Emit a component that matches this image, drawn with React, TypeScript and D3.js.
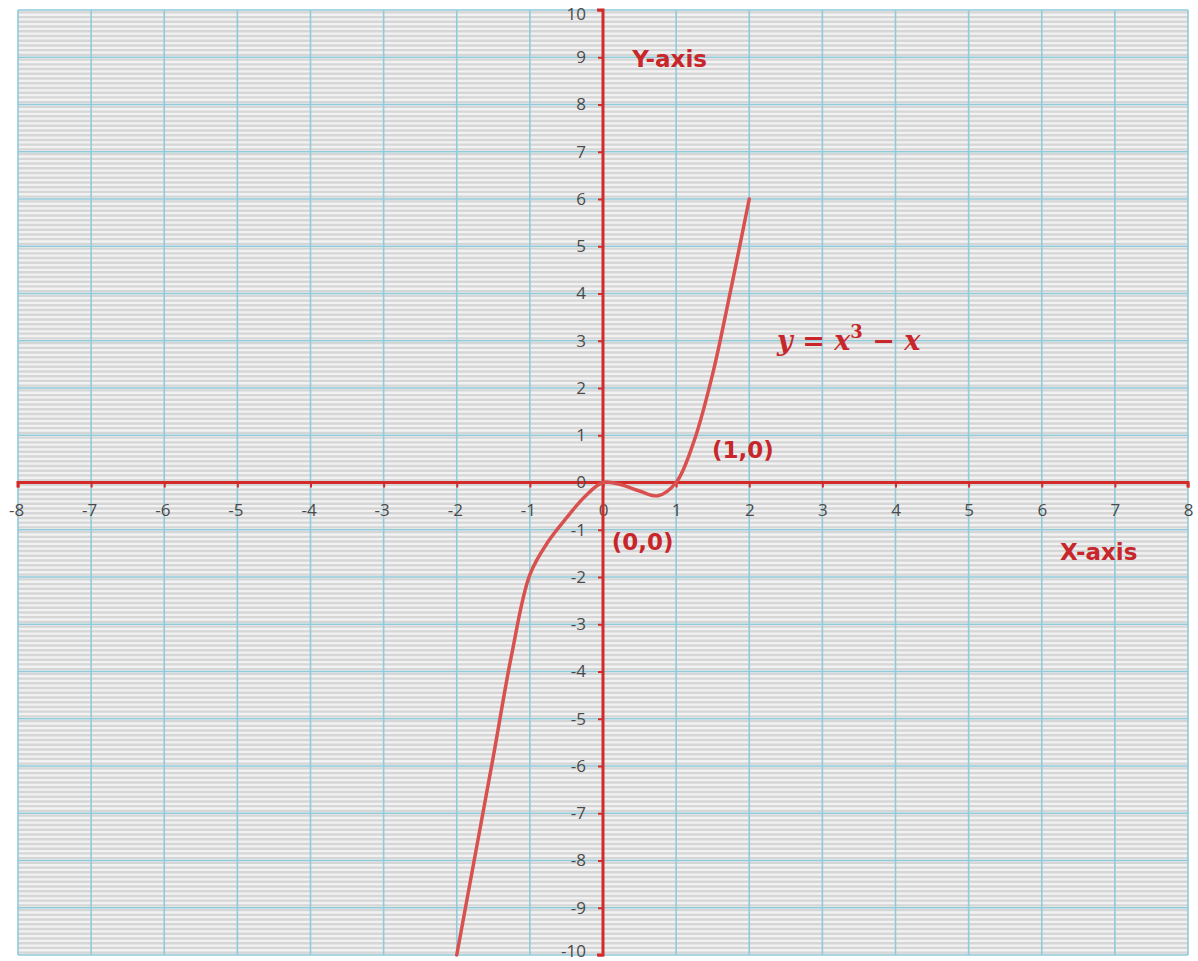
import React, { useEffect, useRef } from 'react';
import * as d3 from 'd3';

const xTickValues = [-8, -7, -6, -5, -4, -3, -2, -1, 0, 1, 2, 3, 4, 5, 6, 7, 8];
const yTickValues = [-10, -9, -8, -7, -6, -5, -4, -3, -2, -1, 0, 1, 2, 3, 4, 5, 6, 7, 8, 9, 10];

// points
const curveX = [-2, -1.75, -1.5, -1.25, -1, -0.75, -0.5, -0.25, 0, 0.25, 0.5, 0.75, 1, 1.25, 1.5, 1.75, 2];
const curveY = [-10, -7.9, -5.8, -3.65, -1.95, -1.25, -0.75, -0.3, 0, -0.05, -0.18, -0.28, 0, 0.9, 2.3, 4.1, 6];

const annotations = [
  { text: '(0,0)', x: 0.12, y: -1.42 },
  { text: '(1,0)', x: 1.49, y: 0.52 },
  { text: 'Y-axis', x: 0.4, y: 8.8 },
  { text: 'X-axis', x: 6.25, y: -1.65 },
];

const App = () => {
  const svgRef = useRef(null);

  useEffect(() => {
    const width = 1198;
    const height = 961;
    const left = 18, right = 1188, top = 10, bottom = 955;
    const red = '#d42a2a';

    const svg = d3.select(svgRef.current);
    svg.selectAll('*').remove();

    const x = d3.scaleLinear().domain([-8, 8]).range([left, right]);
    const y = d3.scaleLinear().domain([-10, 10]).range([bottom, top]);

    svg.attr('width', width).attr('height', height);

    svg.append('rect')
      .attr('x', left).attr('y', top)
      .attr('width', right - left).attr('height', bottom - top)
      .attr('fill', '#f2f2f2');

    // minor stripes every 0.1
    svg.append('g')
      .selectAll('line')
      .data(d3.range(-100, 100).map(d => d / 10 + 0.05))
      .enter()
      .append('line')
      .attr('x1', left).attr('x2', right)
      .attr('y1', d => y(d)).attr('y2', d => y(d))
      .attr('stroke', '#d6d6d6')
      .attr('stroke-width', 2.4);

    const grid = svg.append('g').attr('stroke', '#8fcbdb').attr('stroke-width', 1.6);
    grid.selectAll('.h')
      .data(yTickValues)
      .enter()
      .append('line')
      .attr('class', 'h')
      .attr('x1', left).attr('x2', right)
      .attr('y1', d => y(d)).attr('y2', d => y(d));
    grid.selectAll('.v')
      .data(xTickValues)
      .enter()
      .append('line')
      .attr('class', 'v')
      .attr('y1', top).attr('y2', bottom)
      .attr('x1', d => x(d)).attr('x2', d => x(d));

    // axes
    const xAxis = svg.append('g')
      .attr('transform', `translate(0,${y(0)})`)
      .call(d3.axisBottom(x).tickValues(xTickValues).tickSize(5).tickPadding(16).tickFormat(d => String(d)));
    xAxis.select('.domain').attr('stroke', red).attr('stroke-width', 3).attr('d', `M${left},5V0H${right}V5`);
    xAxis.selectAll('.tick line').attr('stroke', red).attr('stroke-width', 2);
    xAxis.selectAll('.tick text')
      .attr('fill', '#4a4a4a')
      .attr('font-size', 17)
      .attr('font-family', 'Open Sans, sans-serif')
      .attr('dx', d => (d < 0 ? -2 : 0));

    const yAxis = svg.append('g')
      .attr('transform', `translate(${x(0)},0)`)
      .call(d3.axisLeft(y).tickValues(yTickValues).tickSize(5).tickPadding(12).tickFormat(d => String(d)));
    yAxis.select('.domain').attr('stroke', red).attr('stroke-width', 3).attr('d', `M-6,${top}H0V${bottom}H-6`);
    yAxis.selectAll('.tick line').attr('stroke', red).attr('stroke-width', 2);
    yAxis.selectAll('.tick text')
      .attr('fill', '#4a4a4a')
      .attr('font-size', 17)
      .attr('font-family', 'Open Sans, sans-serif')
      .attr('dy', d => (d === -10 ? '0.1em' : d === 10 ? '0.55em' : '0.32em'));

    // curve
    const pts = curveX.map((d, i) => [d, curveY[i]]);
    const line = d3.line()
      .x(d => x(d[0]))
      .y(d => y(d[1]))
      .curve(d3.curveCatmullRom.alpha(0.5));
    svg.append('path')
      .datum(pts)
      .attr('d', line)
      .attr('fill', 'none')
      .attr('stroke', '#d9514f')
      .attr('stroke-width', 3.5)
      .attr('stroke-linecap', 'round');

    svg.append('g')
      .selectAll('text')
      .data(annotations)
      .enter()
      .append('text')
      .attr('x', d => x(d.x))
      .attr('y', d => y(d.y))
      .attr('fill', '#c8262a')
      .attr('font-size', 23)
      .attr('font-weight', 'bold')
      .attr('font-family', 'DejaVu Sans, sans-serif')
      .text(d => d.text);

    const eq = svg.append('text')
      .attr('x', x(2.38))
      .attr('y', y(2.8))
      .attr('fill', '#c8262a')
      .attr('font-size', 27)
      .attr('font-weight', 'bold')
      .attr('font-family', 'DejaVu Serif, serif');
    eq.append('tspan').attr('font-style', 'italic').text('y');
    eq.append('tspan').text(' = ');
    eq.append('tspan').attr('font-style', 'italic').text('x');
    eq.append('tspan').attr('font-size', 18).attr('dy', -12).text('3');
    eq.append('tspan').attr('dy', 12).text(' \u2212 ');
    eq.append('tspan').attr('font-style', 'italic').text('x');
  }, []);

  return <svg ref={svgRef} style={{ position: 'absolute', left: 0, top: 0 }}></svg>;
};

export default App;
